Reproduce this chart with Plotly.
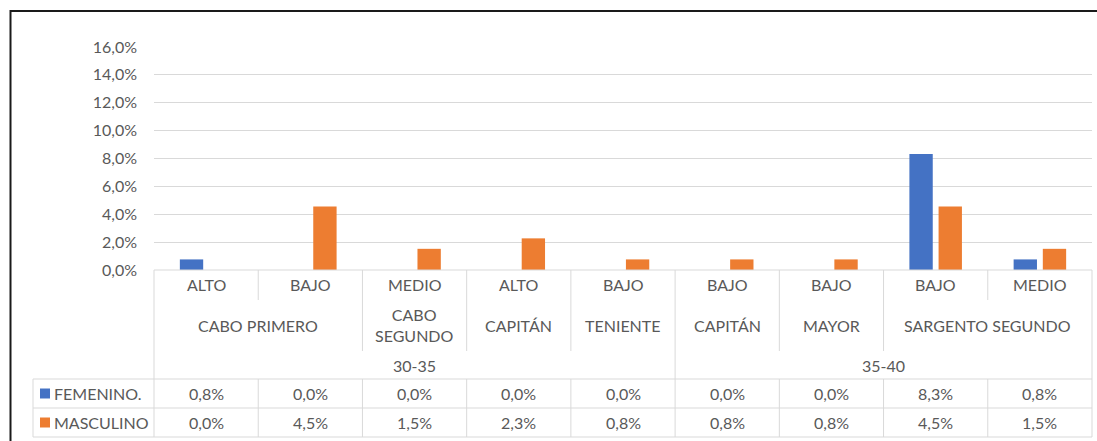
import plotly.graph_objects as go

# ---------------- data ----------------
level1 = ["ALTO", "BAJO", "MEDIO", "ALTO", "BAJO", "BAJO", "BAJO", "BAJO", "MEDIO"]
level2 = [("CABO PRIMERO", 0, 1), ("CABO<br>SEGUNDO", 2, 2), ("CAPITÁN", 3, 3), ("TENIENTE", 4, 4),
          ("CAPITÁN", 5, 5), ("MAYOR", 6, 6), ("SARGENTO SEGUNDO", 7, 8)]
level3 = [("30-35", 0, 4), ("35-40", 5, 8)]
series_names = ["FEMENINO.", "MASCULINO"]
femenino = [0.0076, 0.0, 0.0, 0.0, 0.0, 0.0, 0.0, 0.0833, 0.0076]
masculino = [0.0, 0.0455, 0.0152, 0.0227, 0.0076, 0.0076, 0.0076, 0.0455, 0.0152]
colors = ["#4472C4", "#ED7D31"]
y_ticks = [0, 0.02, 0.04, 0.06, 0.08, 0.10, 0.12, 0.14, 0.16]

# ---------------- layout geometry (pixels) ----------------
W, H = 1097, 441
L, R, T, B = 154, 1092, 47, 270
n = len(level1)
FONT = "Lato, Calibri, sans-serif"
TXT = "#595959"
GRID = "#D9D9D9"


def pxx(x):
    return (x - L) / (R - L)


def pyy(y):
    return (B - y) / (B - T)


def bnd(i):  # paper x of the boundary after category i (axis range -0.5..n-0.5)
    return (i + 1) / n


xs = list(range(n))
fig = go.Figure()
for name, vals, col in zip(series_names, [femenino, masculino], colors):
    fig.add_trace(go.Bar(x=xs, y=vals, name=name, marker=dict(color=col, line=dict(width=0)),
                         showlegend=False, hoverinfo="skip"))

shapes = []
ann = []


def hline(y, x0, x1):
    shapes.append(dict(type="line", xref="paper", yref="paper", x0=x0, x1=x1, y0=pyy(y), y1=pyy(y),
                       line=dict(color=GRID, width=1)))


def vline(x, y0, y1):
    shapes.append(dict(type="line", xref="paper", yref="paper", x0=x, x1=x, y0=pyy(y0), y1=pyy(y1),
                       line=dict(color=GRID, width=1)))


# table horizontal lines
hline(270, 0, 1)
for y in (379, 408, 437):
    hline(y, pxx(33), 1)
vline(pxx(33), 379, 437)
vline(0, 270, 437)
vline(1, 270, 437)

# category boundaries
l2_bounds = set(g[2] for g in level2[:-1])
l3_bounds = set(g[2] for g in level3[:-1])
for i in range(n - 1):
    if i in l3_bounds:
        vline(bnd(i), 270, 437)
    elif i in l2_bounds:
        vline(bnd(i), 270, 351)
        vline(bnd(i), 379, 437)
    else:
        vline(bnd(i), 270, 300)
        vline(bnd(i), 379, 437)

f = dict(family=FONT, size=16, color=TXT)


def add_text(x, y, text, xref="x", xanchor="center"):
    ann.append(dict(x=x, y=pyy(y), xref=xref, yref="paper", text=text, showarrow=False,
                    xanchor=xanchor, yanchor="middle", font=f))


for i, lab in enumerate(level1):
    add_text(i, 284, lab)
for lab, a, b in level2:
    add_text((a + b) / 2, 325, lab)
for lab, a, b in level3:
    add_text((a + b) / 2, 365, lab)


def fmt(v):
    return f"{v * 100:.1f}%".replace(".", ",")


for r, (name, vals, col) in enumerate(zip(series_names, [femenino, masculino], colors)):
    yc = 393.5 + r * 29
    for i, v in enumerate(vals):
        add_text(i, yc, fmt(v))
    shapes.append(dict(type="rect", xref="paper", yref="paper", x0=pxx(40), x1=pxx(50),
                       y0=pyy(yc + 5), y1=pyy(yc - 5), fillcolor=col, line=dict(width=0)))
    add_text(pxx(52), yc, name, xref="paper", xanchor="left")

# outer chart border
shapes.append(dict(type="rect", xref="paper", yref="paper", x0=pxx(10.5), x1=pxx(1110),
                   y0=pyy(460), y1=pyy(11), line=dict(color="#1A1A1A", width=2)))

fig.update_layout(
    width=W, height=H,
    margin=dict(l=L, r=W - R, t=T, b=H - B),
    paper_bgcolor="white", plot_bgcolor="white",
    barmode="group", bargap=0.44, bargroupgap=0.2,
    separators=",.",
    hovermode=False,
    font=dict(family=FONT, size=16, color=TXT),
    xaxis=dict(range=[-0.5, n - 0.5], showticklabels=False, showgrid=False, zeroline=False,
               showline=False, fixedrange=True),
    yaxis=dict(range=[0, 0.16], tickvals=y_ticks, tickformat=".1%", showgrid=True, gridcolor=GRID,
               gridwidth=1, zeroline=False, showline=False, ticklabelstandoff=16, fixedrange=True,
               tickfont=dict(family=FONT, size=16, color=TXT)),
    shapes=shapes, annotations=ann,
)

fig.write_html("out.html", config={"displayModeBar": False, "staticPlot": True},
               post_script="document.body.style.margin='0';document.body.style.overflow='hidden';")
